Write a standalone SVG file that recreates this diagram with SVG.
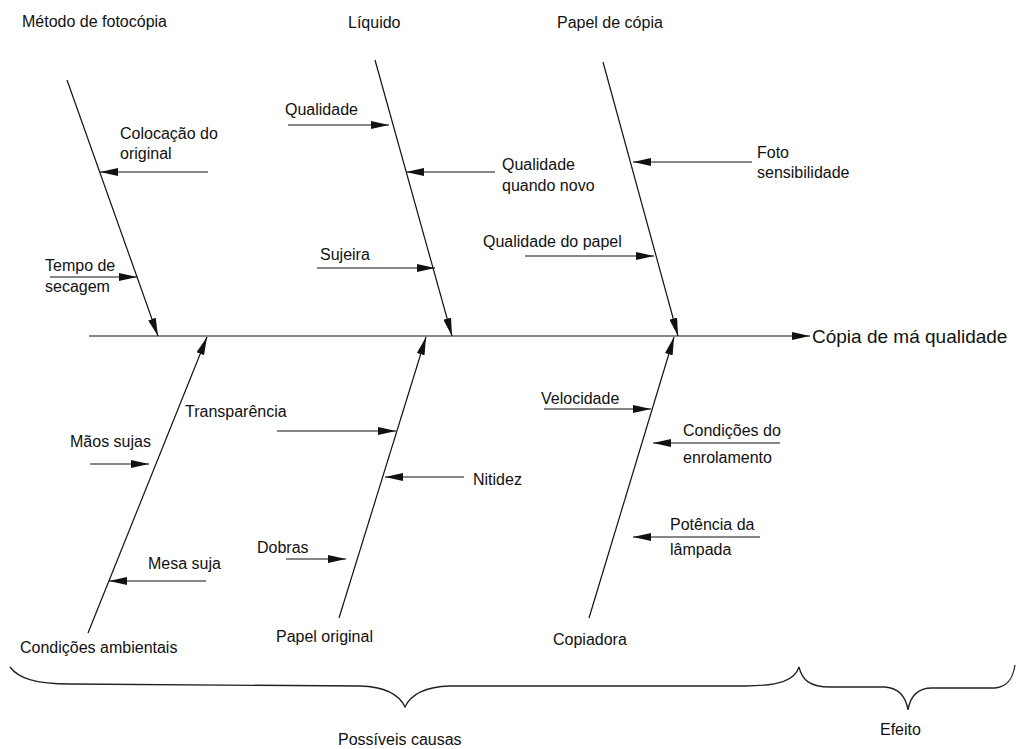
<svg xmlns="http://www.w3.org/2000/svg" width="1016" height="749" viewBox="0 0 1016 749">
<style>
text{font-family:"Liberation Sans",Arial,sans-serif;font-size:16px;fill:#111}
.ln{stroke:#111;stroke-width:1.2;fill:none}
.ar{stroke:#111;stroke-width:1.2;fill:none;marker-end:url(#ah)}
.br{stroke:#222;stroke-width:1.3;fill:none}
</style>
<defs>
<marker id="ah" markerUnits="userSpaceOnUse" markerWidth="18" markerHeight="8" refX="18" refY="4" orient="auto">
<path d="M0,0 L18,4 L0,8 z" fill="#111"/>
</marker>
</defs>
<rect width="1016" height="749" fill="#fff"/>
<g id="connectors">
<line class="ar" x1="89" y1="336" x2="810" y2="336"/>
<line class="ar" x1="67" y1="80" x2="158" y2="336"/>
<line class="ar" x1="375" y1="60" x2="452" y2="336"/>
<line class="ar" x1="603" y1="62" x2="678" y2="336"/>
<line class="ar" x1="88" y1="633" x2="207" y2="337"/>
<line class="ar" x1="339" y1="618" x2="426" y2="337"/>
<line class="ar" x1="589" y1="618" x2="674" y2="337"/>
<line class="ar" x1="208" y1="172" x2="100" y2="172"/>
<line class="ar" x1="50" y1="277" x2="137" y2="277"/>
<line class="ar" x1="288" y1="125" x2="389" y2="125"/>
<line class="ar" x1="495" y1="172" x2="406" y2="172"/>
<line class="ar" x1="317" y1="268" x2="435" y2="268"/>
<line class="ar" x1="752" y1="162" x2="633" y2="162"/>
<line class="ar" x1="525" y1="256" x2="654" y2="256"/>
<line class="ar" x1="90" y1="464" x2="149" y2="464"/>
<line class="ar" x1="206" y1="581" x2="109" y2="581"/>
<line class="ar" x1="277" y1="431" x2="396" y2="431"/>
<line class="ar" x1="464" y1="477" x2="385" y2="477"/>
<line class="ar" x1="286" y1="559" x2="346" y2="559"/>
<line class="ar" x1="544" y1="409" x2="651" y2="409"/>
<line class="ar" x1="780" y1="443" x2="653" y2="443"/>
<line class="ar" x1="760" y1="537" x2="633" y2="537"/>
</g>
<g id="braces">
<path class="br" d="M10,667 C18,678 35,684 70,684 L360,686 C388,687 400,696 405,707 C410,696 422,687 450,686 L745,686 C780,686 795,680 799,667"/>
<path class="br" d="M799,667 C802,680 810,687 830,687 L885,687 C900,688 906,698 908,710 C910,698 916,688 932,688 L995,688 C1008,687 1013,678 1015,665"/>
</g>
<g id="cat-metodo"><text x="22" y="27">Método de fotocópia</text></g>
<g id="cat-liquido"><text x="348" y="28">Líquido</text></g>
<g id="cat-papel-copia"><text x="557" y="28">Papel de cópia</text></g>
<g id="cause-colocacao"><text x="120" y="139">Colocação do</text><text x="120" y="159">original</text></g>
<g id="cause-tempo"><text x="45" y="271">Tempo de</text><text x="45" y="292">secagem</text></g>
<g id="cause-qualidade"><text x="285" y="115">Qualidade</text></g>
<g id="cause-qualidade-novo"><text x="502" y="170">Qualidade</text><text x="502" y="191">quando novo</text></g>
<g id="cause-sujeira"><text x="320" y="260">Sujeira</text></g>
<g id="cause-foto"><text x="757" y="158">Foto</text><text x="757" y="178">sensibilidade</text></g>
<g id="cause-qualidade-papel"><text x="483" y="247">Qualidade do papel</text></g>
<g id="effect"><text x="812" y="343" style="font-size:19px">Cópia de má qualidade</text></g>
<g id="cause-transparencia"><text x="185" y="417">Transparência</text></g>
<g id="cause-maos"><text x="70" y="447">Mãos sujas</text></g>
<g id="cause-mesa"><text x="148" y="569">Mesa suja</text></g>
<g id="cause-dobras"><text x="257" y="553">Dobras</text></g>
<g id="cause-nitidez"><text x="473" y="485">Nitidez</text></g>
<g id="cause-velocidade"><text x="541" y="404">Velocidade</text></g>
<g id="cause-enrolamento"><text x="683" y="436">Condições do</text><text x="683" y="463">enrolamento</text></g>
<g id="cause-lampada"><text x="670" y="530">Potência da</text><text x="670" y="555">lâmpada</text></g>
<g id="cat-ambientais"><text x="20" y="653">Condições ambientais</text></g>
<g id="cat-papel-original"><text x="276" y="642">Papel original</text></g>
<g id="cat-copiadora"><text x="553" y="645">Copiadora</text></g>
<g id="label-causas"><text x="338" y="745">Possíveis causas</text></g>
<g id="label-efeito"><text x="880" y="735">Efeito</text></g>
</svg>
